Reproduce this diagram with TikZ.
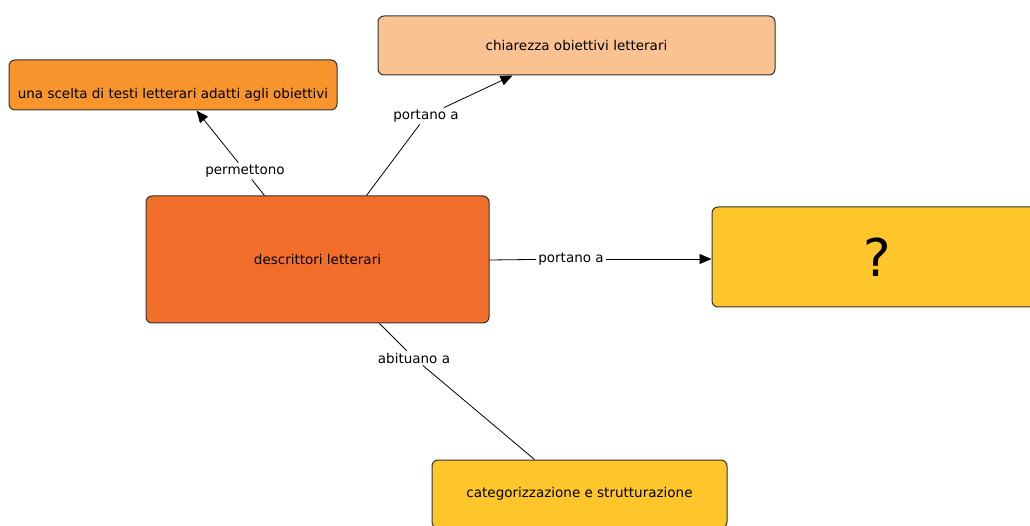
\documentclass[tikz,border=0pt]{standalone}
\usepackage{fontspec}
\setmainfont{DejaVu Sans}
\usetikzlibrary{arrows.meta}
\definecolor{cA}{RGB}{247,148,44}
\definecolor{cB}{RGB}{251,194,145}
\definecolor{cC}{RGB}{242,110,43}
\definecolor{cD}{RGB}{254,198,42}
\definecolor{bord}{RGB}{51,51,51}
\tikzset{
  concept/.style={draw=bord, line width=1pt, rounded corners=6pt, inner sep=0pt,
    font=\fontsize{13.5}{18}\selectfont, align=center},
  linklbl/.style={fill=white, inner sep=2pt, font=\fontsize{13.5}{16}\selectfont},
  conn/.style={line width=0.8pt, draw=black},
  arr/.style={conn, -{Triangle[length=12pt,width=10pt]}}
}
\begin{document}
\begin{tikzpicture}[x=1pt,y=-1pt]
\useasboundingbox (0,0) rectangle (1030,526);
\fill[white] (0,0) rectangle (1030,526);
\node[concept, fill=cA, minimum width=328pt, minimum height=50pt] (A) at (173,85)
  {\strut\\una scelta di testi letterari adatti agli obiettivi};
\node[concept, fill=cB, minimum width=397pt, minimum height=59pt] (B) at (576.5,45.5)
  {chiarezza obiettivi letterari};
\node[concept, fill=cC, minimum width=343pt, minimum height=127pt] (C) at (317.5,259.5)
  {descrittori letterari};
\node[concept, fill=cD, minimum width=330pt, minimum height=100pt, font=\fontsize{52}{60}\selectfont] (D) at (877,257)
  {?};
\node[concept, fill=cD, minimum width=295pt, minimum height=68pt] (E) at (579.5,494)
  {categorizzazione e strutturazione};

\node[linklbl] (l1) at (245,171) {permettono};
\node[linklbl] (l2) at (426,116) {portano a};
\node[linklbl] (l3) at (571,259) {portano a};
\node[linklbl] (l4) at (414,358) {abituano a};

\draw[conn] ([xshift=119pt]C.north west) -- (l1);
\draw[arr] (l1) -- ([xshift=188pt]A.south west);
\draw[conn] ([xshift=221pt]C.north west) -- (l2);
\draw[arr] (l2) -- ([xshift=135pt]B.south west);
\draw[conn] ([yshift=-0.5pt]C.east) -- (l3);
\draw[arr] (l3) -- ([yshift=-2pt]D.west);
\draw[conn] ([xshift=234pt]C.south west) -- (l4);
\draw[conn] (l4) -- ([xshift=103pt]E.north west);
\end{tikzpicture}
\end{document}
